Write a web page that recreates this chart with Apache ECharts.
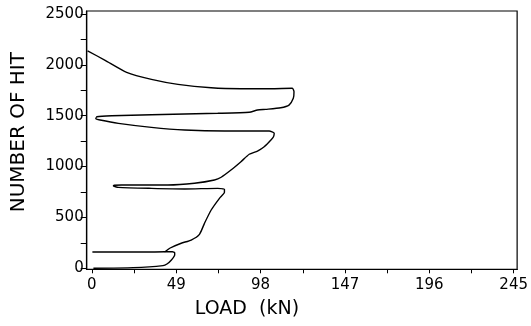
<!DOCTYPE html>
<html>
<head>
<meta charset="utf-8">
<script src="https://cdn.jsdelivr.net/npm/echarts@6/dist/echarts.min.js"></script>
<style>html,body{margin:0;padding:0;background:#fff;}#c{width:531px;height:326px;}</style>
</head>
<body>
<div id="c"></div>
<script>
// Load (kN) and hit number along the main traced curve (top to bottom)
var mainLoad = [-2.5, 7.7, 20.2, 34.6, 50, 69.3, 86.6, 103.9, 116.4, 117.4, 117, 114.5, 109.7, 101, 96.2, 91.4, 73.1, 34.6, 11.5, 2.9, 2.3, 4.8, 15.4, 34.6, 53.9, 77, 103, 105.9, 105.5, 104, 100.1, 96.2, 91.4, 86.6, 80.8, 75.1, 71.2, 59.6, 44.2, 17.3, 13, 12.5, 15.4, 34.6, 53.9, 73.1, 77, 77, 74.1, 69.3, 65.4, 62.5, 57.7, 51.9, 45.2, 42.3, 0.3];
var mainHit  = [2139, 2045, 1927, 1858, 1809, 1775, 1766, 1766, 1770, 1736, 1671, 1605, 1579, 1563, 1556, 1534, 1524, 1510, 1500, 1490, 1471, 1458, 1425, 1386, 1360, 1350, 1350, 1327, 1294, 1261, 1195, 1153, 1121, 1048, 966, 895, 868, 836, 819, 819, 816, 809, 796, 786, 780, 786, 777, 747, 688, 573, 442, 334, 278, 246, 197, 163, 160];
// Bottom loop
var loopLoad = [0.9, 24, 41.3, 43.6, 46.2, 48.1, 48.1, 46.8, 42.3];
var loopHit  = [0, 6, 26, 42, 82, 131, 153, 163, 163];
// Axis ticks / labels
var xTicks  = [0, 24.5, 49, 73.5, 98, 122.5, 147, 171.5, 196, 220.5, 245];
var xLabels = [0, 49, 98, 147, 196, 245];
var yTicks  = [0, 250, 500, 750, 1000, 1250, 1500, 1750, 2000, 2250, 2500];
var yLabels = [0, 500, 1000, 1500, 2000, 2500];
var xName = 'LOAD  (kN)';
var yName = 'NUMBER OF HIT';

function pairs(a, b) { return a.map(function (v, i) { return [v, b[i]]; }); }

var chart = echarts.init(document.getElementById('c'), null, {renderer: 'canvas'});
var font = 'DejaVu Sans';
var lineStyle = {color: '#000', width: 1.4};
chart.setOption({
  animation: false,
  backgroundColor: '#fff',
  grid: {left: 86.7, right: 12, top: 11, bottom: 56.7, show: true, borderColor: '#000', borderWidth: 1.2, containLabel: false},
  xAxis: {
    type: 'value', min: -3, max: 247,
    name: xName, nameLocation: 'middle', nameGap: 30,
    nameTextStyle: {fontFamily: font, fontSize: 19, color: '#000', padding: [0, 110, 0, 0]},
    axisLine: {show: true, onZero: false, lineStyle: {color: '#000', width: 1.2}},
    axisTick: {show: true, length: 4, inside: false, customValues: xTicks, lineStyle: {color: '#000'}},
    axisLabel: {customValues: xLabels, margin: 8, fontFamily: font, fontSize: 15, color: '#000',
      formatter: function (v) { return String(v); }},
    splitLine: {show: false}
  },
  yAxis: {
    type: 'value', min: -10, max: 2530,
    name: yName, nameLocation: 'middle', nameGap: 58, nameRotate: 90,
    nameTextStyle: {fontFamily: font, fontSize: 20, color: '#000', padding: [0, 0, 0, 16]},
    axisLine: {show: true, onZero: false, lineStyle: {color: '#000', width: 1.2}},
    axisTick: {show: true, length: 6, inside: false, customValues: yTicks, lineStyle: {color: '#000'}},
    axisLabel: {customValues: yLabels, margin: 3, fontFamily: font, fontSize: 15, color: '#000',
      formatter: function (v) { return String(v); }},
    splitLine: {show: false}
  },
  series: [
    {type: 'line', data: pairs(mainLoad, mainHit), showSymbol: false, smooth: 0.2, lineStyle: lineStyle},
    {type: 'line', data: pairs(loopLoad, loopHit), showSymbol: false, smooth: 0.2, lineStyle: lineStyle}
  ]
});
</script>
</body>
</html>
